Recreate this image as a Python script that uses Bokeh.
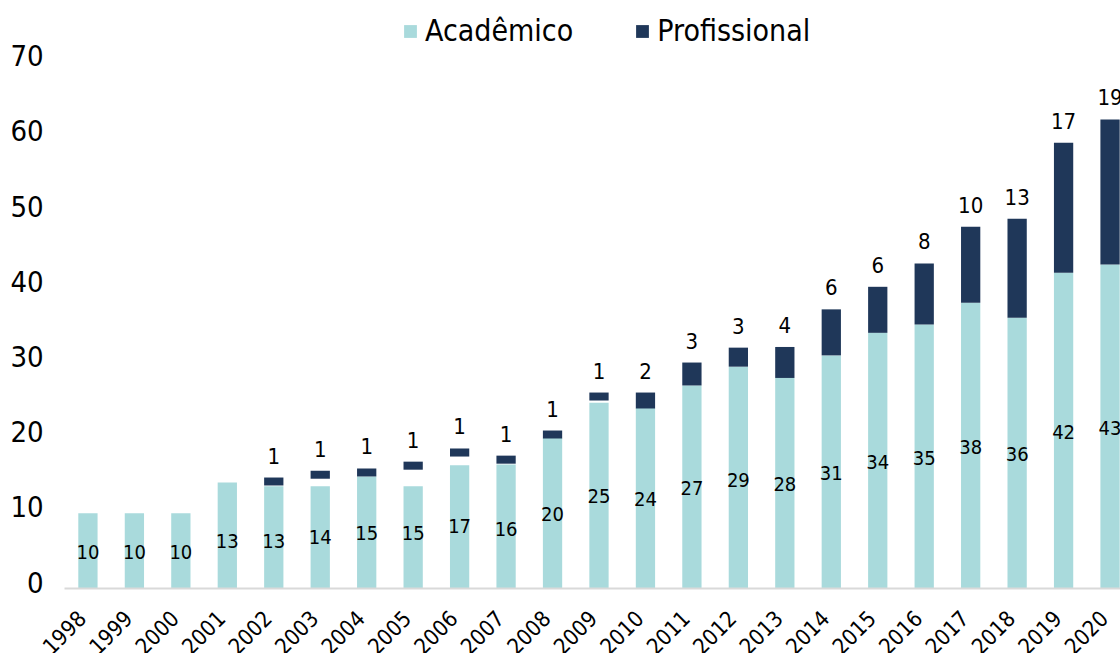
import math
from bokeh.plotting import figure
from bokeh.models import (ColumnDataSource, Range1d, FixedTicker, Legend, LegendItem,
                          LinearAxis)
from bokeh.embed import file_html
from bokeh.resources import INLINE
from bokeh.core.properties import value

years = [str(y) for y in range(1998, 2021)]
# drawn height of the "Acadêmico" bars
acad_bar = [10, 10, 10, 14.1, 13.6, 13.6, 14.9, 13.6, 16.4, 16.5, 20, 24.7, 24,
            27, 29.5, 28, 31, 34, 35.1, 38, 36, 42, 43.1]
# "Profissional" segment: base and size
prof_base = [0, 0, 0, 0, 13.7, 14.6, 14.9, 15.8, 17.55, 16.6, 19.95, 25.0, 23.94,
             27.0, 29.5, 28.0, 31.0, 34.0, 35.1, 38.0, 36.0, 42.0, 43.1]
prof_size = [0, 0, 0, 0, 1.06, 1.06, 1.06, 1.07, 1.07, 1.07, 1.06, 1.06, 2.12,
             3.05, 2.53, 4.12, 6.12, 6.12, 8.12, 10.11, 13.16, 17.29, 19.28]
acad_label = [10, 10, 10, 13, 13, 14, 15, 15, 17, 16, 20, 25, 24, 27, 29, 28, 31,
              34, 35, 38, 36, 42, 43]
prof_label = [None, None, None, None, 1, 1, 1, 1, 1, 1, 1, 1, 2, 3, 3, 4, 6, 6, 8,
              10, 13, 17, 19]
y_ticks = [0, 10, 20, 30, 40, 50, 60, 70]

ACAD = "#A9DADC"
PROF = "#1F3759"
FONT = "DejaVu Sans Condensed"

idx = list(range(len(years)))
src_a = ColumnDataSource(dict(x=idx, top=acad_bar, ly=[v / 2 for v in acad_label],
                              lab=[str(v) for v in acad_label]))
pi_ = [i for i in idx if prof_label[i] is not None]
src_p = ColumnDataSource(dict(
    x=pi_,
    bottom=[prof_base[i] for i in pi_],
    top=[prof_base[i] + prof_size[i] for i in pi_],
    lab=[str(prof_label[i]) for i in pi_],
))

X0, X1 = -1.882, 22.225
Y0, Y1 = -8.64, 78.19
p = figure(width=1120, height=653, output_backend="svg", toolbar_location=None,
           x_range=Range1d(X0, X1), y_range=Range1d(Y0, Y1),
           min_border_left=0, min_border_top=0, min_border_right=0, min_border_bottom=0)
p.outline_line_color = None
p.xgrid.visible = False
p.ygrid.visible = False
p.xaxis.visible = False
p.yaxis.visible = False

r_a = p.vbar(x="x", bottom=0, top="top", width=0.415, source=src_a,
             fill_color=ACAD, line_color=None)
r_p = p.vbar(x="x", bottom="bottom", top="top", width=0.415, source=src_p,
             fill_color=PROF, line_color=None)

p.text(x="x", y="ly", text="lab", source=src_a, text_align="center",
       text_baseline="middle", y_offset=1, text_font=value(FONT), text_font_size="20px",
       text_color="#000000")
p.text(x="x", y="top", text="lab", source=src_p, text_align="center",
       text_baseline="alphabetic", y_offset=-22, text_font=value(FONT),
       text_font_size="22px", text_color="#000000")

# category axis on the zero line (labels nudged slightly left, as in the original)
XSHIFT = 0.13
p.extra_x_ranges = {"lab": Range1d(X0 + XSHIFT, X1 + XSHIFT)}
xax = LinearAxis(x_range_name="lab", ticker=FixedTicker(ticks=idx),
                 fixed_location=0, bounds=(-0.5 + XSHIFT, X1 + XSHIFT))
xax.major_label_overrides = {i: y for i, y in zip(idx, years)}
xax.major_label_orientation = math.pi / 4
xax.major_label_text_font = FONT
xax.major_label_text_font_size = "22px"
xax.major_label_text_color = "#000000"
xax.axis_line_color = "#D9D9D9"
xax.axis_line_width = 2
xax.major_tick_line_color = None
xax.minor_tick_line_color = None
xax.major_tick_out = 0
xax.major_tick_in = 0
xax.major_label_standoff = 26
p.add_layout(xax, "below")

# value axis: labels sit slightly above their value, as in the original
YSHIFT = 0.85
p.extra_y_ranges = {"lab": Range1d(Y0 - YSHIFT, Y1 - YSHIFT)}
yax = LinearAxis(y_range_name="lab", ticker=FixedTicker(ticks=y_ticks),
                 fixed_location=-0.5)
yax.major_label_text_font = FONT
yax.major_label_text_font_size = "29px"
yax.major_label_text_color = "#000000"
yax.axis_line_color = None
yax.major_tick_line_color = None
yax.minor_tick_line_color = None
yax.major_tick_out = 0
yax.major_tick_in = 0
yax.major_label_standoff = 21
p.add_layout(yax, "left")

legend = Legend(items=[LegendItem(label="Acadêmico", renderers=[r_a]),
                       LegendItem(label="Profissional", renderers=[r_p])],
                orientation="horizontal", location=(402, 605),
                glyph_width=16, glyph_height=16, label_standoff=7, spacing=61,
                padding=0, margin=0, border_line_color=None, background_fill_alpha=0,
                label_text_font=FONT, label_text_font_size="30px",
                label_text_color="#000000")
p.add_layout(legend, "center")

open("out.html", "w").write(file_html(p, INLINE))
